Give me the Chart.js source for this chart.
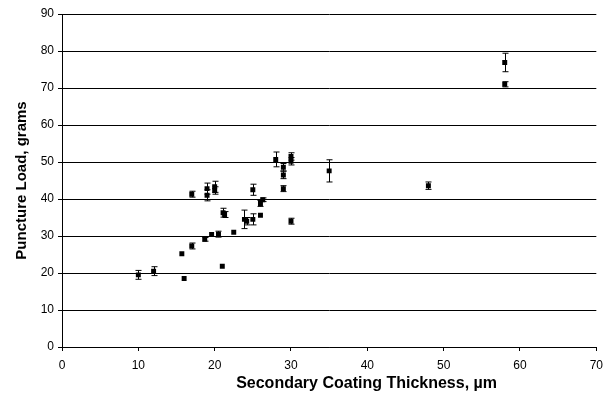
<!DOCTYPE html>
<html>
<head>
<meta charset="utf-8">
<script src="https://cdn.jsdelivr.net/npm/chart.js@4/dist/chart.umd.min.js"></script>
<style>
  html, body { margin: 0; padding: 0; background: #fff; }
  #wrap { width: 610px; height: 404px; }
</style>
</head>
<body>
<div id="wrap"><canvas id="chart"></canvas></div>
<script>
// thickness (um), puncture load (g), error bar half-height (g)
const thickness = [10, 12, 16, 15.7, 17, 18.7, 19.6, 20.5, 21, 22.5,
  17, 19, 19, 20, 20, 21.1, 21.3, 23.9, 24.2, 25,
  25, 26, 26, 26.3, 28, 29, 29, 29, 30, 30,
  30, 35, 48, 58, 58];
const load = [19.5, 20.5, 18.5, 25.2, 27.3, 29.1, 30.4, 30.5, 21.8, 31.0,
  41.3, 42.8, 41.0, 43.3, 42.3, 36.3, 35.8, 34.5, 34.0, 34.5,
  42.5, 35.6, 38.8, 39.8, 50.7, 48.6, 46.5, 42.8, 51.5, 50.2,
  34.0, 47.6, 43.6, 76.9, 71.0];
const loadErr = [1.2, 1.2, 0, 0, 0.8, 0.5, 0, 0.8, 0, 0,
  0.8, 1.5, 1.5, 1.5, 1.0, 1.2, 0.8, 2.5, 1.0, 1.5,
  1.5, 0, 0.8, 0.5, 2.0, 1.0, 1.0, 0.8, 1.0, 1.0,
  0.8, 3.0, 1.0, 2.5, 0.7];
const xTicks = [0, 10, 20, 30, 40, 50, 60, 70];
const yTicks = [0, 10, 20, 30, 40, 50, 60, 70, 80, 90];
const xTitle = 'Secondary Coating Thickness, µm';
const yTitle = 'Puncture Load, grams';

const points = thickness.map((x, i) => ({ x: x, y: load[i], err: loadErr[i] }));

const fontFamily = 'Liberation Sans, Arial, sans-serif';

// error bars drawn with the chart's own scales
const errorBars = {
  id: 'errorBars',
  beforeDatasetsDraw(chart) {
    const ctx = chart.ctx;
    const xs = chart.scales.x, ys = chart.scales.y;
    ctx.save();
    ctx.strokeStyle = '#000';
    ctx.lineWidth = 1;
    points.forEach(p => {
      if (!p.err) return;
      const px = Math.round(xs.getPixelForValue(p.x)) + 0.5;
      const top = ys.getPixelForValue(p.y + p.err);
      const bot = ys.getPixelForValue(p.y - p.err);
      ctx.beginPath();
      ctx.moveTo(px, top); ctx.lineTo(px, bot);
      ctx.moveTo(px - 3, top); ctx.lineTo(px + 3, top);
      ctx.moveTo(px - 3, bot); ctx.lineTo(px + 3, bot);
      ctx.stroke();
    });
    ctx.restore();
  }
};

// x axis title, sitting a little right of the plot centre as in the original
const xAxisTitle = {
  id: 'xAxisTitle',
  afterDraw(chart) {
    const ctx = chart.ctx;
    const area = chart.chartArea;
    ctx.save();
    ctx.fillStyle = '#000';
    ctx.font = 'bold 16px ' + fontFamily;
    ctx.textAlign = 'center';
    ctx.textBaseline = 'middle';
    ctx.fillText(xTitle, area.left + area.width * 0.57, 384);
    ctx.restore();
  }
};

const tickFont = { family: fontFamily, size: 12 };
const titleFont = { family: fontFamily, size: 15, weight: 'bold' };

new Chart(document.getElementById('chart'), {
  type: 'scatter',
  data: {
    datasets: [{
      data: points,
      pointStyle: 'rect',
      pointRadius: 3.5,
      pointHoverRadius: 3.5,
      backgroundColor: '#000',
      borderColor: '#000',
      borderWidth: 0
    }]
  },
  options: {
    responsive: true,
    maintainAspectRatio: false,
    animation: false,
    layout: { padding: { top: 14, right: 12, left: 13, bottom: 13 } },
    plugins: { legend: { display: false }, tooltip: { enabled: false } },
    scales: {
      x: {
        type: 'linear',
        min: 0, max: 70,
        afterBuildTicks: axis => { axis.ticks = xTicks.map(v => ({ value: v })); },
        afterFit: axis => { axis.height = 44; },
        grid: { display: true, drawOnChartArea: false, drawTicks: true, tickLength: 4, color: '#000' },
        border: { display: true, color: '#000', width: 1 },
        ticks: { color: '#000', font: tickFont, padding: 7, maxRotation: 0 }
      },
      y: {
        type: 'linear',
        min: 0, max: 90,
        afterBuildTicks: axis => { axis.ticks = yTicks.map(v => ({ value: v })); },
        afterFit: axis => { axis.width = 49; },
        grid: { display: true, drawTicks: true, tickLength: 4, color: '#000', lineWidth: 1 },
        border: { display: true, color: '#000', width: 1 },
        ticks: { color: '#000', font: tickFont, padding: 4 },
        title: { display: true, text: yTitle, color: '#000', font: titleFont, padding: { top: 0, bottom: 0 } }
      }
    }
  },
  plugins: [errorBars, xAxisTitle]
});
</script>
</body>
</html>
